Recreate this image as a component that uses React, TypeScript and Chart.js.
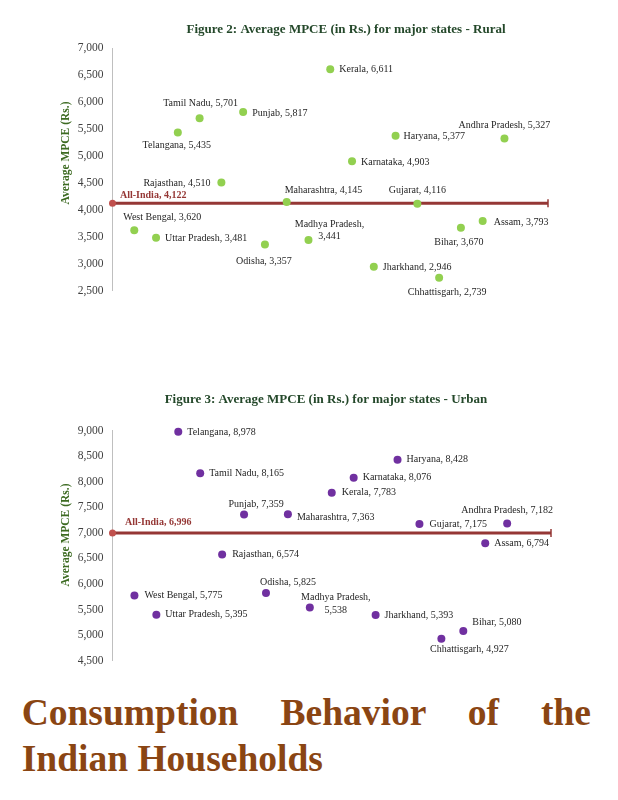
import React, { useEffect, useRef } from "react";
import { Chart, registerables } from "chart.js";

Chart.register(...registerables);

// ---------- data ----------
const states = [
  "West Bengal", "Uttar Pradesh", "Telangana", "Tamil Nadu", "Rajasthan", "Punjab",
  "Odisha", "Maharashtra", "Madhya Pradesh", "Kerala", "Karnataka", "Jharkhand",
  "Haryana", "Gujarat", "Chhattisgarh", "Bihar", "Assam", "Andhra Pradesh",
];
const ruralMPCE = [3620, 3481, 5435, 5701, 4510, 5817, 3357, 4145, 3441, 6611, 4903, 2946, 5377, 4116, 2739, 3670, 3793, 5327];
const urbanMPCE = [5775, 5395, 8978, 8165, 6574, 7359, 5825, 7363, 5538, 7783, 8076, 5393, 8428, 7175, 4927, 5080, 6794, 7182];
const allIndiaRural = 4122;
const allIndiaUrban = 6996;
const ruralRange = [2500, 7000];
const urbanRange = [4500, 9000];
const tickStep = 500;
const ruralTitle = "Figure 2: Average MPCE (in Rs.) for major states - Rural";
const urbanTitle = "Figure 3: Average MPCE (in Rs.) for major states - Urban";
const yAxisTitle = "Average MPCE (Rs.)";
const heading = "Consumption Behavior of the Indian Households";

// label placement (align, dx, dy) — layout only
type Place = [string, number, number];
const ruralPlace: Place[] = [
  ["left", -11, -13], ["left", 9, 1], ["center", -1, 13], ["center", 1, -15], ["right", -11, 1], ["left", 9, 1],
  ["center", -1, 17], ["left", -2, -12], ["wrap", 21, -16], ["left", 9, 0], ["left", 9, 1], ["left", 9, 1],
  ["left", 8, 1], ["center", 0, -13.5], ["center", 8, 15], ["center", -2, 15], ["left", 11, 1], ["center", 0, -13],
];
const urbanPlace: Place[] = [
  ["left", 10, 0], ["left", 9, 0], ["left", 9, 1], ["left", 9, 0], ["left", 10, 0], ["center", 12, -10],
  ["center", 22, -11], ["left", 9, 3], ["wrap", 26, -10], ["left", 10, 0], ["left", 9, 0], ["left", 9, 0],
  ["left", 9, 0], ["left", 10, 0], ["center", 28, 11], ["left", 9, -9], ["left", 9, 0], ["center", 0, -13],
];

const fmt = (v: number) => v.toLocaleString("en-US");
const SERIF = '"Liberation Serif", "Times New Roman", serif';

const labelPlugin = {
  id: "pointLabels",
  afterDatasetsDraw(chart: any) {
    const ctx = chart.ctx;
    chart.data.datasets.forEach((ds: any, di: number) => {
      if (!ds.pointLabels) return;
      const meta = chart.getDatasetMeta(di);
      meta.data.forEach((el: any, i: number) => {
        const text = ds.pointLabels[i];
        if (!text) return;
        const [align, dx, dy] = ds.labelPlace[i];
        ctx.save();
        ctx.font = ds.labelFont;
        ctx.fillStyle = ds.labelColor;
        ctx.textBaseline = "middle";
        ctx.textAlign = align === "wrap" ? "center" : align;
        const lines = align === "wrap" ? text.split(", ").map((s: string, k: number, a: string[]) => (k < a.length - 1 ? s + "," : s)) : [text];
        lines.forEach((ln: string, k: number) => ctx.fillText(ln, el.x + dx, el.y + dy + k * 12.6));
        ctx.restore();
      });
    });
  },
};

const textPlugin = {
  id: "figText",
  afterDraw(chart: any, _args: any, opts: any) {
    const ctx = chart.ctx;
    ctx.save();
    ctx.font = `bold 13px ${SERIF}`;
    ctx.fillStyle = "#24482a";
    ctx.textAlign = "center";
    ctx.textBaseline = "middle";
    ctx.fillText(opts.title, opts.titleX, opts.titleY);
    ctx.translate(opts.axisX, opts.axisY);
    ctx.rotate(-Math.PI / 2);
    ctx.font = `bold 11.5px ${SERIF}`;
    ctx.fillStyle = "#3d6b22";
    ctx.fillText(opts.axisTitle, 0, 0);
    ctx.restore();
  },
};

function makeConfig(
  values: number[], allIndia: number, range: number[], color: string, place: Place[],
  padding: any, title: string, titleX: number, titleY: number, axisY: number, aiPlace: Place
) {
  return {
    type: "scatter",
    data: {
      datasets: [
        {
          data: values.map((v, i) => ({ x: i + 1, y: v })),
          backgroundColor: color,
          borderWidth: 0,
          pointRadius: 4,
          clip: false,
          pointLabels: values.map((v, i) => `${states[i]}, ${fmt(v)}`),
          labelPlace: place,
          labelFont: `10px ${SERIF}`,
          labelColor: "#262626",
        },
        {
          data: [{ x: 0, y: allIndia }, { x: 20, y: allIndia }],
          showLine: true,
          borderColor: "#953735",
          borderWidth: 3,
          pointStyle: ["circle", "line"],
          pointRotation: [0, 90],
          pointRadius: [3.5, 4],
          pointBackgroundColor: ["#c0504d", "#953735"],
          pointBorderColor: ["#c0504d", "#953735"],
          pointBorderWidth: [0, 1.5],
          clip: false,
          pointLabels: [`All-India, ${fmt(allIndia)}`, ""],
          labelPlace: [aiPlace, aiPlace],
          labelFont: `bold 10px ${SERIF}`,
          labelColor: "#953735",
        },
      ],
    },
    options: {
      animation: false,
      responsive: false,
      layout: { padding },
      plugins: {
        legend: { display: false },
        tooltip: { enabled: false },
        figText: { title, titleX, titleY, axisTitle: yAxisTitle, axisX: 66, axisY },
      },
      scales: {
        x: { type: "linear", min: 0, max: 20, display: false },
        y: {
          min: range[0],
          max: range[1],
          ticks: {
            stepSize: tickStep,
            callback: (v: number) => fmt(v),
            font: { family: SERIF, size: 11.5 },
            color: "#404040",
            padding: 9,
          },
          grid: { display: false, drawTicks: false },
          border: { display: true, color: "#bfbfbf", width: 1 },
          afterFit: (s: any) => { s.width = 112.5; },
        },
      },
    },
    plugins: [labelPlugin, textPlugin],
  };
}

export default function App() {
  const r1 = useRef<HTMLCanvasElement>(null);
  const r2 = useRef<HTMLCanvasElement>(null);
  useEffect(() => {
    const c1 = new Chart(
      r1.current as any,
      makeConfig(ruralMPCE, allIndiaRural, ruralRange, "#92d050", ruralPlace,
        { left: 0, right: 70, top: 48.3, bottom: 19.3 }, ruralTitle, 346, 29.3, 153, ["left", 7.5, -8]) as any
    );
    const c2 = new Chart(
      r2.current as any,
      makeConfig(urbanMPCE, allIndiaUrban, urbanRange, "#7030a0", urbanPlace,
        { left: 0, right: 67, top: 60.6, bottom: 19.4 }, urbanTitle, 326, 30, 165, ["left", 12.5, -11]) as any
    );
    return () => { c1.destroy(); c2.destroy(); };
  }, []);
  return (
    <div style={{ position: "absolute", left: 0, top: 0, width: 618, height: 800, background: "#fff", overflow: "hidden" }}>
      <canvas ref={r1} width={618} height={310} style={{ position: "absolute", left: 0, top: 0 }} />
      <canvas ref={r2} width={618} height={310} style={{ position: "absolute", left: 0, top: 370 }} />
      <div
        style={{
          position: "absolute", left: 21.7, top: 690, width: 569.3,
          font: `bold 37.5px ${SERIF}`, lineHeight: "46px", color: "#8a4513",
          textAlign: "justify", textAlignLast: "left",
        }}
      >
        {heading}
      </div>
    </div>
  );
}
